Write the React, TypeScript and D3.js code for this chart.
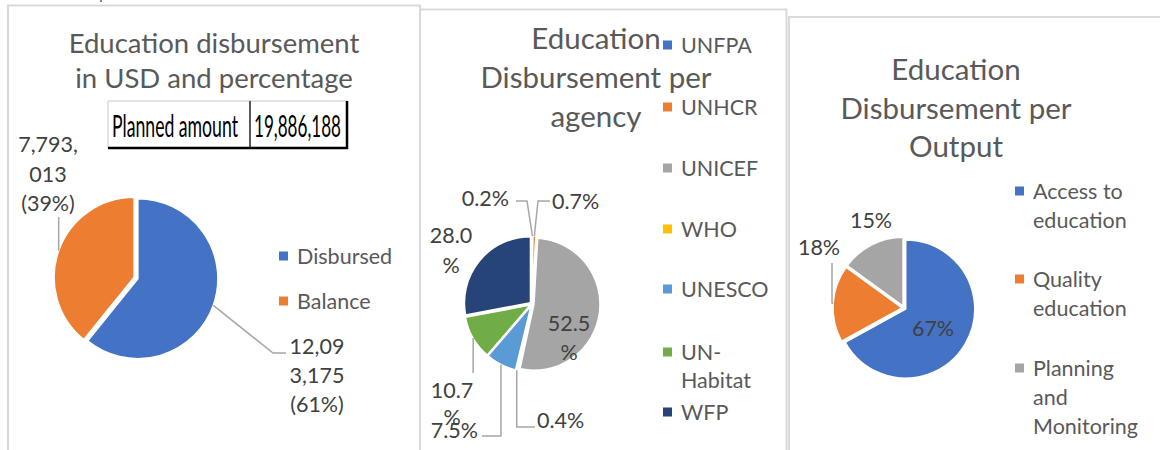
import React from "react";
import * as d3 from "d3";

// ---------- data ----------
const statusCategories = ["Disbursed", "Balance"];
const statusValues = [12093175, 7793013];
const plannedLabel = "Planned amount";
const plannedAmount = 19886188;

const agencyCategories = ["UNFPA", "UNHCR", "UNICEF", "WHO", "UNESCO", "UN-Habitat", "WFP"];
const agencyShares = [0.2, 0.7, 52.5, 0.4, 7.5, 10.7, 28.0];

const outputCategories = ["Access to education", "Quality education", "Planning and Monitoring"];
const outputShares = [67, 18, 15];

const titles = [
  ["Education disbursement", "in USD and percentage"],
  ["Education", "Disbursement per", "agency"],
  ["Education", "Disbursement per", "Output"],
];

// ---------- styles ----------
const FONT = "Lato, 'Open Sans', sans-serif";
const palette = ["#4472C4", "#ED7D31", "#A5A5A5", "#FFC000", "#5B9BD5", "#70AD47", "#264478"];
const TITLE_C = "#595959";
const LABEL_C = "#404040";
const LEGEND_C = "#595959";
const LEADER_C = "#A6A6A6";
const BORDER_C = "#D9D9D9";
const LBL = 21.5;

const fmtInt = d3.format(",");

function wrapWords(s: string, maxChars: number): string[] {
  const tokens = s.replace(/-/g, "- ").split(" ").filter(Boolean);
  const lines: string[] = [];
  let cur = "";
  tokens.forEach((t) => {
    const joiner = cur.endsWith("-") ? "" : " ";
    if (!cur) cur = t;
    else if ((cur + joiner + t).length <= maxChars) cur = cur + joiner + t;
    else {
      lines.push(cur);
      cur = t;
    }
  });
  if (cur) lines.push(cur);
  return lines;
}
function chunk(s: string, n: number): string[] {
  const out: string[] = [];
  for (let i = 0; i < s.length; i += n) out.push(s.slice(i, i + n));
  return out;
}

type PieProps = { cx: number; cy: number; r: number; values: number[]; colors: string[]; explode: number };
function pieArcs(values: number[]) {
  return d3.pie<number>().sort(null).value((d) => d)(values);
}
function Pie({ cx, cy, r, values, colors, explode }: PieProps) {
  const arcs = pieArcs(values);
  const arc = d3.arc<d3.PieArcDatum<number>>().innerRadius(0).outerRadius(r);
  return (
    <g transform={`translate(${cx},${cy})`}>
      {arcs.map((a, i) => {
        const m = (a.startAngle + a.endAngle) / 2;
        const dx = explode * Math.sin(m);
        const dy = -explode * Math.cos(m);
        return (
          <path key={i} d={arc(a) || ""} transform={`translate(${dx},${dy})`} fill={colors[i]} stroke="#fff" strokeWidth={1.5} />
        );
      })}
    </g>
  );
}
function edgePoint(values: number[], i: number, cx: number, cy: number, r: number): [number, number] {
  const a = pieArcs(values)[i];
  const m = (a.startAngle + a.endAngle) / 2;
  return [cx + r * Math.sin(m), cy - r * Math.cos(m)];
}

function Lines({ lines, x, y, lh, anchor = "start", size, fill, weight = 400 }: any) {
  return (
    <text x={x} y={y} fontSize={size} fill={fill} textAnchor={anchor} fontFamily={FONT} fontWeight={weight}>
      {lines.map((l: string, i: number) => (
        <tspan key={i} x={x} y={y + i * lh}>
          {l}
        </tspan>
      ))}
    </text>
  );
}

function Legend({ items, colors, x, ys, lh, maxChars }: any) {
  return (
    <g>
      {items.map((name: string, i: number) => (
        <g key={name}>
          <rect x={x} y={ys[i] - 4.5} width={9} height={9} fill={colors[i]} />
          <Lines lines={wrapWords(name, maxChars)} x={x + 18} y={ys[i] + 7.5} lh={lh} size={21.5} fill={LEGEND_C} />
        </g>
      ))}
    </g>
  );
}

function Leader({ pts }: { pts: [number, number][] }) {
  return <path d={d3.line()(pts) || ""} fill="none" stroke={LEADER_C} strokeWidth={1.5} />;
}

export default function App() {
  // panel 1
  const p1 = { cx: 136, cy: 278, r: 80 };
  const total1 = d3.sum(statusValues);
  const pct1 = statusValues.map((v) => `(${Math.round((v / total1) * 100)}%)`);
  const dis = edgePoint(statusValues, 0, p1.cx, p1.cy, p1.r + 2);
  const bal = edgePoint(statusValues, 1, p1.cx, p1.cy, p1.r + 2);

  // panel 2
  const p2 = { cx: 532, cy: 304, r: 66 };
  const ag = agencyShares.map((v) => `${v.toFixed(1)}%`);
  const e2 = agencyShares.map((_, i) => edgePoint(agencyShares, i, p2.cx, p2.cy, p2.r + 2));

  // panel 3
  const p3 = { cx: 904, cy: 308, r: 69 };
  const op = outputShares.map((v) => `${v}%`);
  const e3q = edgePoint(outputShares, 1, p3.cx, p3.cy, p3.r + 2);

  return (
    <svg width={1160} height={450} style={{ position: "absolute", left: 0, top: 0, background: "#fff" }}>
      <rect x={0} y={0} width={1160} height={450} fill="#fff" />
      <text x={99} y={-1.5} fontSize={16} fill="#0070C0" fontFamily={FONT}>p</text>

      {/* panel borders */}
      <path d="M8,460 V5.5 H420 V460" fill="none" stroke={BORDER_C} strokeWidth={2} />
      <path d="M420,9.5 H786.5 V460" fill="none" stroke={BORDER_C} strokeWidth={2} />
      <path d="M789,460 V17 H1160" fill="none" stroke={BORDER_C} strokeWidth={2} />

      {/* ---------- panel 1 ---------- */}
      <Lines lines={titles[0]} x={214} y={53} lh={35} anchor="middle" size={27.5} fill={TITLE_C} />
      <g>
        <rect x={108} y={101} width={239} height={47} fill="#fff" />
        <path d="M108,148 V101 H347" fill="none" stroke="#C8C8C8" strokeWidth={1} />
        <path d="M347,101 V148 H108" fill="none" stroke="#000" strokeWidth={2.5} />
        <line x1={250} x2={250} y1={101} y2={148} stroke="#222" strokeWidth={1.5} />
        <text x={112} y={137} fontSize={30} fontFamily={FONT} fill="#000" textLength={126} lengthAdjust="spacingAndGlyphs">
          {plannedLabel}
        </text>
        <text x={254} y={137} fontSize={30} fontFamily={FONT} fill="#000" textLength={87} lengthAdjust="spacingAndGlyphs">
          {fmtInt(plannedAmount)}
        </text>
      </g>
      <Pie {...p1} values={statusValues} colors={palette} explode={2} />
      <Leader pts={[dis, [273, 353], [286, 353]]} />
      <Leader pts={[bal, [bal[0], 217]]} />
      <Lines lines={[...chunk(fmtInt(statusValues[1]), 6), pct1[1]]} x={48} y={152} lh={29.5} anchor="middle" size={LBL} fill={LABEL_C} />
      <Lines lines={[...chunk(fmtInt(statusValues[0]), 5), pct1[0]]} x={317} y={354} lh={29} anchor="middle" size={LBL} fill={LABEL_C} />
      <Legend items={statusCategories} colors={palette} x={279} ys={[256, 301]} lh={29} maxChars={20} />

      {/* ---------- panel 2 ---------- */}
      <Lines lines={titles[1]} x={596} y={49} lh={39} anchor="middle" size={29.5} fill={TITLE_C} />
      <Pie {...p2} values={agencyShares} colors={palette} explode={2} />
      <Leader pts={[e2[0], [527, 201], [516, 201]]} />
      <Leader pts={[e2[1], [538, 201], [550, 201]]} />
      <Leader pts={[e2[3], [e2[3][0], 427], [535, 427]]} />
      <Leader pts={[e2[4], [e2[4][0], 436], [482, 436]]} />
      <Leader pts={[e2[5], [e2[5][0], 373]]} />
      <Lines lines={[ag[0]]} x={509} y={205.5} lh={29} anchor="end" size={LBL} fill={LABEL_C} />
      <Lines lines={[ag[1]]} x={552} y={208.5} lh={29} anchor="start" size={LBL} fill={LABEL_C} />
      <Lines lines={chunk(ag[2], 4)} x={569} y={330.5} lh={29} anchor="middle" size={LBL} fill={LABEL_C} />
      <Lines lines={[ag[3]]} x={537} y={427.5} lh={29} anchor="start" size={LBL} fill={LABEL_C} />
      <Lines lines={[ag[4]]} x={478} y={437.5} lh={29} anchor="end" size={LBL} fill={LABEL_C} />
      <Lines lines={chunk(ag[5], 4)} x={452} y={397.5} lh={27} anchor="middle" size={LBL} fill={LABEL_C} />
      <Lines lines={chunk(ag[6], 4)} x={451} y={242.5} lh={30} anchor="middle" size={LBL} fill={LABEL_C} />
      <Legend items={agencyCategories} colors={palette} x={663} ys={[45, 107, 168, 229, 289, 352, 412]} lh={28} maxChars={7} />

      {/* ---------- panel 3 ---------- */}
      <Lines lines={titles[2]} x={956} y={80} lh={38.5} anchor="middle" size={29.5} fill={TITLE_C} />
      <Pie {...p3} values={outputShares} colors={palette} explode={2} />
      <Leader pts={[e3q, [832, 303], [832, 263]]} />
      <Lines lines={[op[0]]} x={933} y={335.5} lh={29} anchor="middle" size={LBL} fill={LABEL_C} />
      <Lines lines={[op[1]]} x={819} y={254.5} lh={29} anchor="middle" size={LBL} fill={LABEL_C} />
      <Lines lines={[op[2]]} x={871} y={227.5} lh={29} anchor="middle" size={LBL} fill={LABEL_C} />
      <Legend items={outputCategories} colors={palette} x={1015} ys={[191, 279, 368]} lh={29} maxChars={10} />
    </svg>
  );
}
